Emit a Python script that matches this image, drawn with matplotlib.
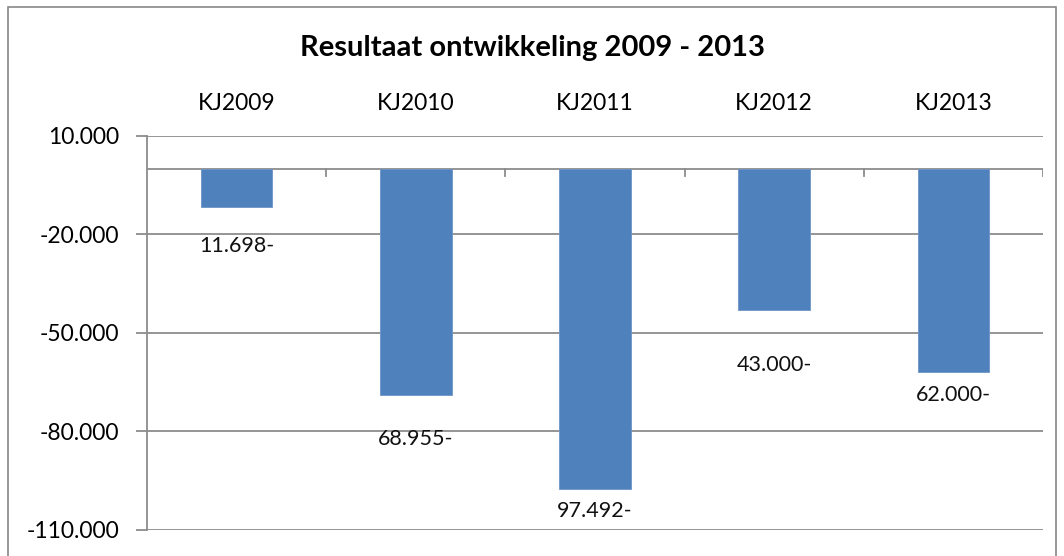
import matplotlib.pyplot as plt
from matplotlib.patches import Rectangle

categories = ["KJ2009", "KJ2010", "KJ2011", "KJ2012", "KJ2013"]
results = [-11698, -68955, -97492, -43000, -62000]
labels = ["11.698-", "68.955-", "97.492-", "43.000-", "62.000-"]
label_offsets = [-29, -34, -12, -45, -13]   # pixels below bar end, as placed in original
yticks = [10000, -20000, -50000, -80000, -110000]

plt.rcParams["font.family"] = ["Lato", "DejaVu Sans"]

fig = plt.figure(figsize=(10.64, 5.56), dpi=100)
fig.patches.append(Rectangle((8 / 1064, -0.01), 1048 / 1064, 1 - 7 / 556 + 0.01,
                             transform=fig.transFigure, fill=False,
                             edgecolor="#888888", lw=1.2))
ax = fig.add_axes([147 / 1064, 1 - 530 / 556, 896 / 1064, 394 / 556])

x = range(len(categories))
ax.bar(x, results, width=0.4, color="#4f81bd", edgecolor="#6e94c6", lw=0.6, zorder=3)
for xi, v, lab, off in zip(x, results, labels, label_offsets):
    ax.annotate(lab, (xi, v), xytext=(0, off), textcoords="offset pixels",
                ha="center", va="top", fontsize=15.5, color="#111111", zorder=4)

ax.set_xlim(-0.5, len(categories) - 0.5)
ax.set_ylim(-110000, 10000)
ax.set_yticks(yticks)
ax.set_yticklabels([f"{t:,}".replace(",", ".") for t in yticks], fontsize=16.5)
ax.yaxis.grid(True, color="#8c8c8c", lw=1.3, zorder=0)
ax.tick_params(axis="y", length=8, color="#8c8c8c", width=1.3, pad=12)

# categories on top, axis line at zero
ax.set_xticks([])
for xi, c in zip(x, categories):
    ax.text(xi, 1.055, c, transform=ax.get_xaxis_transform(), ha="center",
            va="bottom", fontsize=16.5)
ax.axhline(0, color="#8c8c8c", lw=1.3, zorder=2)
for b in [i + 0.5 for i in range(len(categories))]:
    ax.plot([b, b], [0, -2200], color="#8c8c8c", lw=1.3, zorder=2)

for s in ["top", "right", "bottom"]:
    ax.spines[s].set_visible(False)
ax.spines["left"].set_color("#8c8c8c")
ax.spines["left"].set_linewidth(1.3)

fig.text(0.5, 1 - 48 / 556, "Resultaat ontwikkeling 2009 - 2013", ha="center",
         va="center", fontsize=21, fontweight="bold")

fig.savefig("out.png", dpi=100)
